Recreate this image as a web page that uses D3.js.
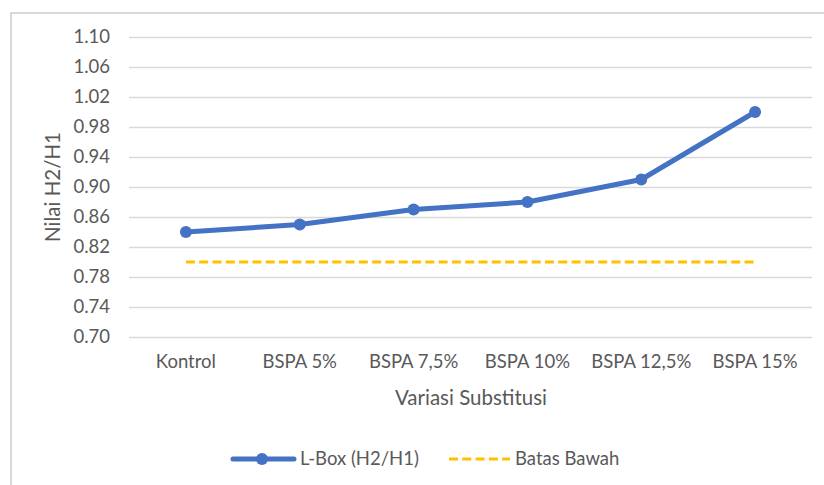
<!DOCTYPE html>
<html>
<head>
<meta charset="utf-8">
<script src="https://cdn.jsdelivr.net/npm/d3@7"></script>
<style>
  body { margin: 0; background: #fff; }
  text { font-family: Lato, 'Open Sans', sans-serif; fill: #595959; }
</style>
</head>
<body>
<script>
// data
var categories = ['Kontrol', 'BSPA 5%', 'BSPA 7,5%', 'BSPA 10%', 'BSPA 12,5%', 'BSPA 15%']
var lbox = [0.84, 0.85, 0.87, 0.88, 0.91, 1.00]
var batasBawah = [0.80, 0.80, 0.80, 0.80, 0.80, 0.80]
var yTicks = [0.70, 0.74, 0.78, 0.82, 0.86, 0.90, 0.94, 0.98, 1.02, 1.06, 1.10]

var w = 824
var h = 485
var plot = { left: 129, right: 812, top: 37, bottom: 337 }

var svg = d3.select('body')
  .append('svg')
  .attr('width', w)
  .attr('height', h)

// chart border (runs off the right and bottom edge)
svg.append('rect')
  .attr('x', 11)
  .attr('y', 13)
  .attr('width', 840)
  .attr('height', 500)
  .attr('fill', 'none')
  .attr('stroke', '#d9d9d9')
  .attr('stroke-width', 2)

var xScale = d3.scaleBand()
  .domain(categories)
  .range([plot.left, plot.right])

var yScale = d3.scaleLinear()
  .domain([0.70, 1.10])
  .range([plot.bottom, plot.top])

var cx = function (i) { return xScale(categories[i]) + xScale.bandwidth() / 2 }

// y axis with gridlines
var yAxis = svg.append('g')
  .attr('transform', 'translate(' + plot.left + ',0)')
  .call(d3.axisLeft(yScale)
    .tickValues(yTicks)
    .tickFormat(d3.format('.2f'))
    .tickSize(-(plot.right - plot.left))
    .tickPadding(19))
yAxis.select('.domain').remove()
yAxis.selectAll('line')
  .attr('stroke', '#d9d9d9')
  .attr('stroke-width', 1.5)
yAxis.selectAll('text')
  .attr('font-size', '18.5px')
  .style('fill', '#595959')

// x axis labels
var xAxis = svg.append('g')
  .attr('transform', 'translate(0,' + plot.bottom + ')')
  .call(d3.axisBottom(xScale).tickSize(0).tickPadding(18))
xAxis.select('.domain').remove()
xAxis.selectAll('text')
  .attr('font-size', '18.5px')
  .style('fill', '#595959')

// axis titles
svg.append('text')
  .attr('x', 471)
  .attr('y', 405)
  .attr('text-anchor', 'middle')
  .attr('font-size', '20.5px')
  .text('Variasi Substitusi')

svg.append('text')
  .attr('transform', 'translate(60,187) rotate(-90)')
  .attr('text-anchor', 'middle')
  .attr('font-size', '20.5px')
  .text('Nilai H2/H1')

// lower limit line
var line = d3.line()
  .x(function (d, i) { return cx(i) })
  .y(function (d) { return yScale(d) })

svg.append('path')
  .datum(batasBawah)
  .attr('d', line)
  .attr('fill', 'none')
  .attr('stroke', '#ffc000')
  .attr('stroke-width', 3)
  .attr('stroke-dasharray', '9,4.3')

// L-Box series
svg.append('path')
  .datum(lbox)
  .attr('d', line)
  .attr('fill', 'none')
  .attr('stroke', '#4472c4')
  .attr('stroke-width', 5)
  .attr('stroke-linejoin', 'round')

svg.selectAll('circle.pt')
  .data(lbox)
  .enter()
  .append('circle')
  .attr('class', 'pt')
  .attr('cx', function (d, i) { return cx(i) })
  .attr('cy', function (d) { return yScale(d) })
  .attr('r', 6)
  .attr('fill', '#4472c4')

// legend
var leg = svg.append('g')
leg.append('line')
  .attr('x1', 233).attr('x2', 294)
  .attr('y1', 459).attr('y2', 459)
  .attr('stroke', '#4472c4')
  .attr('stroke-width', 5)
  .attr('stroke-linecap', 'round')
leg.append('circle')
  .attr('cx', 262).attr('cy', 459)
  .attr('r', 6)
  .attr('fill', '#4472c4')
leg.append('text')
  .attr('x', 300).attr('y', 465)
  .attr('font-size', '18.5px')
  .text('L-Box (H2/H1)')
leg.append('line')
  .attr('x1', 449).attr('x2', 510)
  .attr('y1', 459).attr('y2', 459)
  .attr('stroke', '#ffc000')
  .attr('stroke-width', 3)
  .attr('stroke-dasharray', '9,4.3')
leg.append('text')
  .attr('x', 515).attr('y', 465)
  .attr('font-size', '18.5px')
  .text('Batas Bawah')
</script>
</body>
</html>
